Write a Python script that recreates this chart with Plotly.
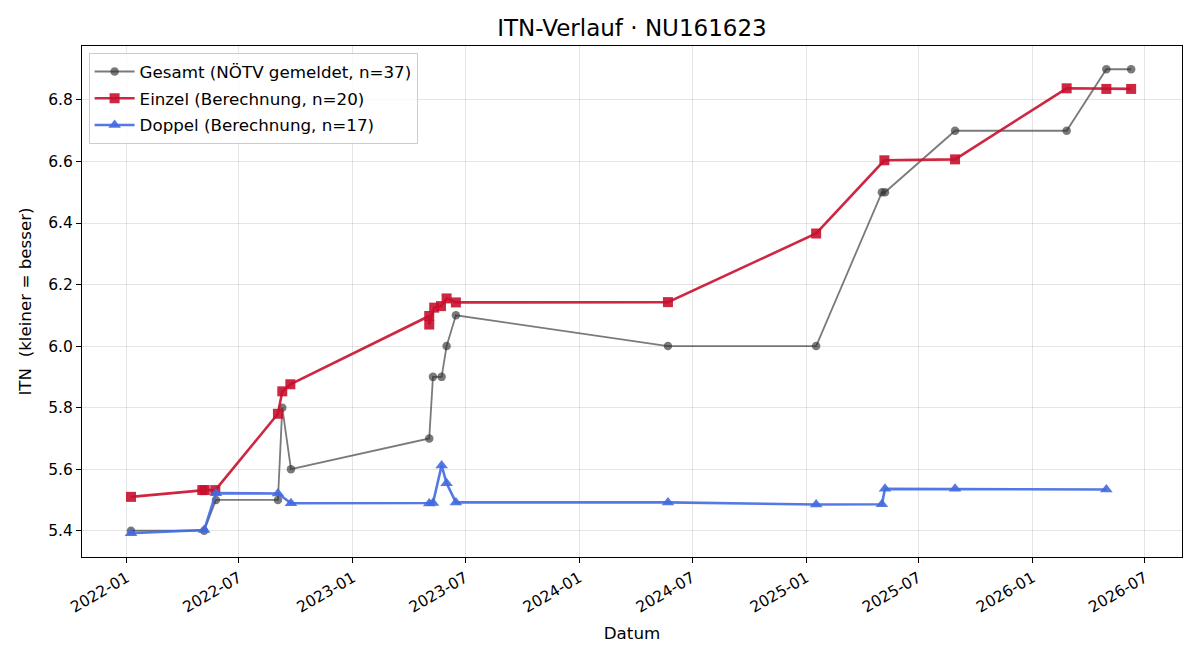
import plotly.graph_objects as go

# ---------------- data ----------------
gesamt_dates = ["2022-01-08", "2022-05-06", "2022-05-25", "2022-09-02", "2022-09-09", "2022-09-23",
                "2023-05-04", "2023-05-10", "2023-05-24", "2023-06-01", "2023-06-16", "2024-05-23",
                "2025-01-17", "2025-05-03", "2025-05-08", "2025-08-29", "2026-02-25", "2026-04-30",
                "2026-06-09"]
gesamt_vals = [5.40, 5.40, 5.50, 5.50, 5.80, 5.60,
               5.70, 5.90, 5.90, 6.00, 6.10, 6.00,
               6.00, 6.50, 6.50, 6.70, 6.70, 6.90,
               6.90]

einzel_dates = ["2022-01-08", "2022-05-03", "2022-05-07", "2022-05-24", "2022-09-02", "2022-09-09",
                "2022-09-22", "2023-05-04", "2023-05-04", "2023-05-12", "2023-05-23", "2023-06-01",
                "2023-06-16", "2024-05-23", "2025-01-17", "2025-05-07", "2025-08-29", "2026-02-25",
                "2026-04-30", "2026-06-09"]
einzel_vals = [5.510, 5.532, 5.532, 5.532, 5.780, 5.853,
               5.876, 6.098, 6.070, 6.125, 6.130, 6.155,
               6.142, 6.143, 6.366, 6.604, 6.607, 6.838,
               6.836, 6.836]

doppel_dates = ["2022-01-08", "2022-05-06", "2022-05-25", "2022-09-02", "2022-09-23", "2023-05-04",
                "2023-05-10", "2023-05-24", "2023-06-01", "2023-06-16", "2024-05-23", "2025-01-17",
                "2025-05-03", "2025-05-08", "2025-08-29", "2026-04-30"]
doppel_vals = [5.392, 5.402, 5.522, 5.521, 5.489, 5.488,
               5.490, 5.612, 5.554, 5.492, 5.492, 5.485,
               5.486, 5.536, 5.536, 5.534]

y_ticks = [5.4, 5.6, 5.8, 6.0, 6.2, 6.4, 6.6, 6.8]
x_ticks = ["2022-01-01", "2022-07-01", "2023-01-01", "2023-07-01", "2024-01-01",
           "2024-07-01", "2025-01-01", "2025-07-01", "2026-01-01", "2026-07-01"]
x_ticklabels = ["2022-01", "2022-07", "2023-01", "2023-07", "2024-01",
                "2024-07", "2025-01", "2025-07", "2026-01", "2026-07"]

FONT = "DejaVu Sans"

fig = go.Figure()
fig.add_trace(go.Scatter(
    x=gesamt_dates, y=gesamt_vals, mode="lines+markers",
    name="Gesamt (NÖTV gemeldet, n=37)", legendgroup="g1",
    line=dict(color="rgba(51,51,51,0.65)", width=1.8),
    marker=dict(symbol="circle", size=8.5, color="rgba(51,51,51,0.65)",
                line=dict(width=0)),
))
fig.add_trace(go.Scatter(
    x=einzel_dates, y=einzel_vals, mode="lines+markers",
    name="Einzel (Berechnung, n=20)", legendgroup="g2",
    line=dict(color="rgba(200,16,46,0.9)", width=2.6),
    marker=dict(symbol="square", size=10, color="rgba(200,16,46,0.9)",
                line=dict(width=0)),
))
fig.add_trace(go.Scatter(
    x=doppel_dates, y=doppel_vals, mode="lines+markers",
    name="Doppel (Berechnung, n=17)", legendgroup="g3",
    line=dict(color="rgba(65,105,225,0.9)", width=2.6),
    marker=dict(symbol="triangle-up", size=11, color="rgba(65,105,225,0.9)",
                line=dict(width=0)),
))

axis_common = dict(
    showline=True, linecolor="black", linewidth=1.2, mirror=True,
    ticks="outside", ticklen=5, tickcolor="black", tickwidth=1.2,
    showgrid=True, gridcolor="rgba(0,0,0,0.1)", gridwidth=1,
    zeroline=False, tickfont=dict(family=FONT, size=15.5, color="black"),
)

fig.update_layout(
    width=1200, height=660,
    margin=dict(l=82, r=18, t=46, b=103),
    paper_bgcolor="white", plot_bgcolor="white",
    font=dict(family=FONT, size=16, color="black"),
    title=dict(text="ITN-Verlauf · NU161623", x=0.5, xref="paper", xanchor="center",
               y=1 - 28 / 660, yref="container", yanchor="middle",
               font=dict(family=FONT, size=23, color="black")),
    xaxis=dict(axis_common, range=["2021-10-21", "2026-08-30"],
               tickmode="array", tickvals=x_ticks, ticktext=x_ticklabels, tickangle=-30,
               title=dict(text="Datum", font=dict(family=FONT, size=16.7), standoff=11)),
    yaxis=dict(axis_common, range=[5.3145, 6.9755], tickmode="array",
               tickvals=y_ticks, ticktext=[f"{v:.1f}" for v in y_ticks],
               title=dict(text="ITN\u00a0\u00a0(kleiner = besser)",
                          font=dict(family=FONT, size=16.7), standoff=12)),
    legend=dict(x=0.006, y=0.986, xanchor="left", yanchor="top",
                bgcolor="rgba(255,255,255,0.8)", bordercolor="#cccccc", borderwidth=1,
                font=dict(family=FONT, size=16.7, color="black"), tracegroupgap=2,
                itemwidth=40),
    showlegend=True,
)

fig.write_html("out.html")
